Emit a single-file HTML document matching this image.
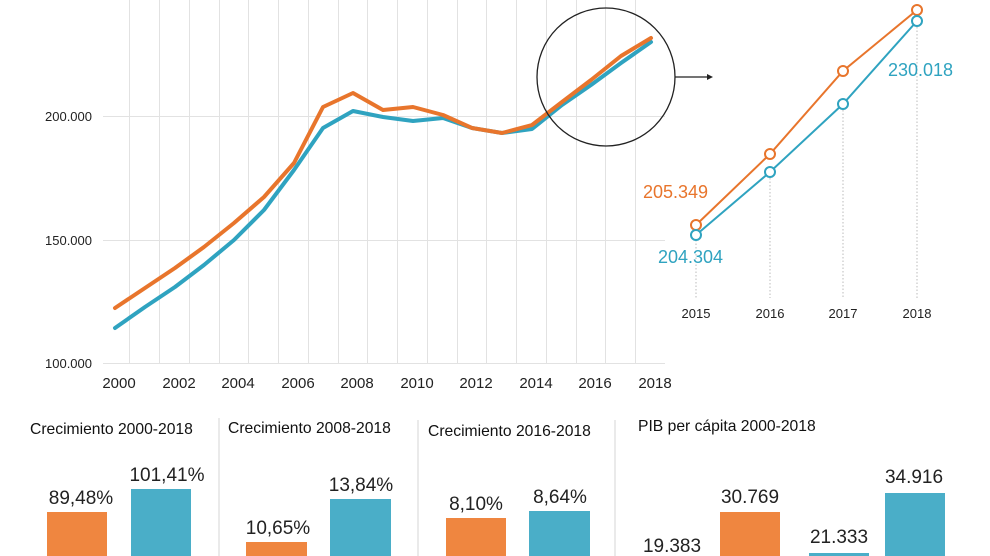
<!DOCTYPE html>
<html><head><meta charset="utf-8"><style>
html,body{margin:0;padding:0;background:#fff}
svg{display:block}
text{font-family:"Liberation Sans",Arial,sans-serif}
</style></head><body>
<svg width="990" height="556" viewBox="0 0 990 556" xmlns="http://www.w3.org/2000/svg">
<g stroke="#e2e2e2" stroke-width="1">
<line x1="129.5" y1="0" x2="129.5" y2="363"/><line x1="159.5" y1="0" x2="159.5" y2="363"/><line x1="189.5" y1="0" x2="189.5" y2="363"/><line x1="219.5" y1="0" x2="219.5" y2="363"/><line x1="248.5" y1="0" x2="248.5" y2="363"/><line x1="278.5" y1="0" x2="278.5" y2="363"/><line x1="308.5" y1="0" x2="308.5" y2="363"/><line x1="338.5" y1="0" x2="338.5" y2="363"/><line x1="367.5" y1="0" x2="367.5" y2="363"/><line x1="397.5" y1="0" x2="397.5" y2="363"/><line x1="427.5" y1="0" x2="427.5" y2="363"/><line x1="457.5" y1="0" x2="457.5" y2="363"/><line x1="486.5" y1="0" x2="486.5" y2="363"/><line x1="516.5" y1="0" x2="516.5" y2="363"/><line x1="546.5" y1="0" x2="546.5" y2="363"/><line x1="576.5" y1="0" x2="576.5" y2="363"/><line x1="605.5" y1="0" x2="605.5" y2="363"/><line x1="635.5" y1="0" x2="635.5" y2="363"/>
<line x1="103" y1="116.5" x2="665" y2="116.5"/><line x1="103" y1="240.5" x2="665" y2="240.5"/><line x1="103" y1="363.5" x2="665" y2="363.5"/>
</g>
<g font-size="13" fill="#222" text-anchor="end">
<text x="92" y="121">200.000</text><text x="92" y="245">150.000</text><text x="92" y="368">100.000</text>
</g>
<g font-size="15" fill="#222" text-anchor="middle">
<text x="119" y="388">2000</text><text x="179" y="388">2002</text><text x="238" y="388">2004</text><text x="298" y="388">2006</text><text x="357" y="388">2008</text><text x="417" y="388">2010</text><text x="476" y="388">2012</text><text x="536" y="388">2014</text><text x="595" y="388">2016</text><text x="655" y="388">2018</text>
</g>
<polyline fill="none" stroke="#2fa3c0" stroke-width="4" stroke-linejoin="round" stroke-linecap="round"
points="115,328 145,307 175,287 204,265 234,240 264,210 294,170 323,128 353,111 383,117 413,121 443,118 472,128 502,133 532,129 562,105 591,85 621,63 651,42"/>
<polyline fill="none" stroke="#e8752c" stroke-width="4" stroke-linejoin="round" stroke-linecap="round"
points="115,308 145,288 175,268 204,247 234,223 264,197 294,163 323,107 353,93 383,110 413,107 443,115 472,128 502,133 532,125 562,102 591,80 621,56 651,38"/>
<ellipse cx="606" cy="77" rx="69" ry="69" fill="none" stroke="#222" stroke-width="1.3"/>
<line x1="675" y1="77" x2="709" y2="77" stroke="#222" stroke-width="1.3"/>
<polygon points="713,77 707,74 707,80" fill="#222"/>
<g stroke="#bbb" stroke-width="1" stroke-dasharray="1.5,2">
<line x1="696" y1="240" x2="696" y2="298"/><line x1="770" y1="178" x2="770" y2="298"/><line x1="843" y1="110" x2="843" y2="298"/><line x1="917" y1="27" x2="917" y2="298"/>
</g>
<polyline fill="none" stroke="#2fa3c0" stroke-width="2" points="696,235 770,172 843,104 917,21"/>
<polyline fill="none" stroke="#e8752c" stroke-width="2" points="696,225 770,154 843,71 917,10"/>
<g fill="#fff" stroke-width="2">
<circle cx="696" cy="225" r="5" stroke="#e8752c"/><circle cx="770" cy="154" r="5" stroke="#e8752c"/><circle cx="843" cy="71" r="5" stroke="#e8752c"/><circle cx="917" cy="10" r="5" stroke="#e8752c"/>
<circle cx="696" cy="235" r="5" stroke="#2fa3c0"/><circle cx="770" cy="172" r="5" stroke="#2fa3c0"/><circle cx="843" cy="104" r="5" stroke="#2fa3c0"/><circle cx="917" cy="21" r="5" stroke="#2fa3c0"/>
</g>
<text x="643" y="198" font-size="18" fill="#e8752c">205.349</text>
<text x="658" y="263" font-size="18" fill="#2fa3c0">204.304</text>
<text x="888" y="76" font-size="18" fill="#2fa3c0">230.018</text>
<g font-size="13" fill="#222" text-anchor="middle">
<text x="696" y="318">2015</text><text x="770" y="318">2016</text><text x="843" y="318">2017</text><text x="917" y="318">2018</text>
</g>
<g stroke="#ddd" stroke-width="1.2">
<line x1="219" y1="418" x2="219" y2="556"/><line x1="418" y1="420" x2="418" y2="556"/><line x1="615" y1="420" x2="615" y2="556"/>
</g>
<g font-size="16" fill="#111">
<text transform="translate(30,434) scale(0.98,1)">Crecimiento 2000-2018</text>
<text transform="translate(228,433) scale(0.98,1)">Crecimiento 2008-2018</text>
<text transform="translate(428,436) scale(0.98,1)">Crecimiento 2016-2018</text>
<text transform="translate(638,431) scale(0.98,1)">PIB per cápita 2000-2018</text>
</g>
<g fill="#ef8640">
<rect x="47" y="512" width="60" height="44"/><rect x="246" y="542" width="61" height="14"/><rect x="446" y="518" width="60" height="38"/><rect x="720" y="512" width="60" height="44"/>
</g>
<g fill="#4aaec8">
<rect x="131" y="489" width="60" height="67"/><rect x="330" y="499" width="61" height="57"/><rect x="529" y="511" width="61" height="45"/><rect x="809" y="553" width="60" height="3"/><rect x="885" y="493" width="60" height="63"/>
</g>
<g font-size="19" fill="#222" text-anchor="middle">
<text x="81" y="504">89,48%</text><text x="167" y="481">101,41%</text>
<text x="278" y="534">10,65%</text><text x="361" y="491">13,84%</text>
<text x="476" y="510">8,10%</text><text x="560" y="503">8,64%</text>
<text x="672" y="552">19.383</text><text x="750" y="503">30.769</text><text x="839" y="543">21.333</text><text x="914" y="483">34.916</text>
</g>
</svg>
</body></html>
